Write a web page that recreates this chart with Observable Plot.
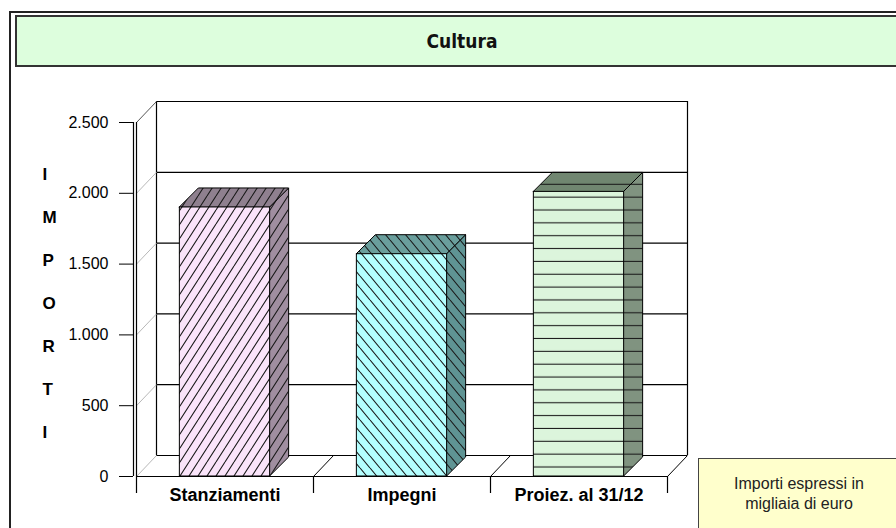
<!DOCTYPE html>
<html>
<head>
<meta charset="utf-8">
<script src="https://cdn.jsdelivr.net/npm/d3@7"></script>
<script src="https://cdn.jsdelivr.net/npm/@observablehq/plot@0.6"></script>
<style>
html,body{margin:0;padding:0;background:#fff;}
#wrap{position:relative;width:896px;height:528px;overflow:hidden;font-family:"Liberation Sans",Arial,sans-serif;}
#frame{position:absolute;left:9px;top:11px;width:1000px;height:1000px;border-left:2px solid #222;border-top:2px solid #222;}
#title{position:absolute;left:15px;top:15px;width:890px;height:48px;background:#ddfedd;border:2px solid #333;display:flex;align-items:center;justify-content:center;font-family:"Liberation Sans Narrow","DejaVu Sans Condensed",sans-serif;font-stretch:condensed;font-weight:bold;font-size:19px;color:#111;}
#chart{position:absolute;left:0;top:0;}
#note{position:absolute;left:698px;top:458px;width:202px;height:100px;background:#ffffcc;border:1px solid #444;text-align:center;font-size:16px;line-height:20px;padding-top:15px;box-sizing:border-box;color:#222;}
#defs{position:absolute;left:0;top:0;}
</style>
</head>
<body>
<div id="wrap">
  <svg id="defs" width="0" height="0"></svg>
  <div id="frame"></div>
  <div id="chart"></div>
  <div id="title"></div>
  <div id="note"></div>
</div>
<script>
// ---- data ----
const title = "Cultura";
const categories = ["Stanziamenti", "Impegni", "Proiez. al 31/12"];
const values = [1900, 1570, 2010];
const yTicks = [0, 500, 1000, 1500, 2000, 2500];
const yTickLabels = ["0", "500", "1.000", "1.500", "2.000", "2.500"];
const yTitle = "IMPORTI";
const noteLines = ["Importi espressi in", "migliaia di euro"];
const frontColors = ["#fae4fa", "#b4ffff", "#dcf5dc"];
const sideColors = ["#a08ea0", "#5f9494", "#809380"];
const topColors = ["#8f808f", "#6a9e9c", "#708670"];
const hatchKinds = ["up", "down", "horiz"];

document.getElementById("title").textContent = title;
document.getElementById("note").innerHTML = noteLines.join("<br>");

// ---- hatch patterns ----
const defs = d3.select("#defs").append("defs");
function addPattern(id, kind, bg) {
  let w, h, d, y = 0;
  if (kind === "up") { w = 9; h = 14; d = "M-9,14L0,0M0,14L9,0M9,14L18,0"; }
  else if (kind === "down") { w = 10; h = 12; d = "M-10,0L0,12M0,0L10,12M10,0L20,12"; }
  else { w = 10; h = 12.85; d = "M-1,6.4H11"; y = -2; }
  const p = defs.append("pattern").attr("id", id).attr("patternUnits", "userSpaceOnUse")
    .attr("x", 0).attr("y", y).attr("width", w).attr("height", h);
  p.append("rect").attr("width", w).attr("height", h).attr("fill", bg);
  p.append("path").attr("d", d).attr("stroke", "#1a1a1a").attr("stroke-width", 1.1).attr("fill", "none");
}
categories.forEach((c, i) => {
  addPattern("front" + i, hatchKinds[i], frontColors[i]);
  addPattern("side" + i, hatchKinds[i], sideColors[i]);
  addPattern("top" + i, hatchKinds[i], topColors[i]);
});

// ---- geometry ----
const W = 896, H = 528, mL = 136, mR = 229, mT = 122, mB = 52;
const n = categories.length;
const yMax = yTicks[yTicks.length - 1];
const pxX = (W - mL - mR) / n;
const pxY = (H - mT - mB) / yMax;
const wallDx = 20 / pxX, wallDy = 21 / pxY;
const barDx = 19 / pxX, barDy = 19 / pxY;
const tickLen = 17 / pxY;
const half = 0.255;
const bars = categories.map((c, i) => ({c, i, v: values[i], x1: i + 0.5 - half, x2: i + 0.5 + half}));
const bounds = d3.range(n + 1);

const marks = [
  // back wall
  Plot.ruleY(yTicks, {y: d => d + wallDy, x1: wallDx, x2: n + wallDx, stroke: "#000", strokeWidth: 1.2}),
  Plot.ruleX([0, n], {x: d => d + wallDx, y1: wallDy, y2: yMax + wallDy, stroke: "#000", strokeWidth: 1.2}),
  // side wall diagonals
  Plot.link(yTicks.filter(d => d !== yMax), {x1: 0, y1: d => d, x2: wallDx, y2: d => d + wallDy, stroke: "#b8b8b8"}),
  Plot.link([yMax], {x1: 0, y1: d => d, x2: wallDx, y2: d => d + wallDy, stroke: "#555"}),
  // floor diagonals
  Plot.link(bounds.slice(1), {x1: d => d, y1: 0, x2: d => d + wallDx, y2: wallDy, stroke: "#000"}),
  // front x axis
  Plot.ruleY([0], {x1: 0, x2: n, stroke: "#000", strokeWidth: 1.2}),
  Plot.ruleX([0], {y1: -tickLen, y2: yMax, stroke: "#000", strokeWidth: 1.2}),
  Plot.ruleX(bounds.slice(1), {y1: -tickLen, y2: 0, stroke: "#000", strokeWidth: 1.2}),
  Plot.ruleX([0], {y1: 0, y2: yMax, dx: -3, stroke: "#000", strokeWidth: 1.2}),
];

bars.forEach(b => {
  marks.push(
    Plot.areaY([{x: b.x2, y1: 0, y2: b.v}, {x: b.x2 + barDx, y1: barDy, y2: b.v + barDy}],
      {x: "x", y1: "y1", y2: "y2", fill: `url(#side${b.i})`, stroke: "#000", strokeWidth: 1}),
    Plot.areaX([{y: b.v, x1: b.x1, x2: b.x2}, {y: b.v + barDy, x1: b.x1 + barDx, x2: b.x2 + barDx}],
      {y: "y", x1: "x1", x2: "x2", fill: `url(#top${b.i})`, stroke: "#000", strokeWidth: 1}),
    Plot.rect([b], {x1: "x1", x2: "x2", y1: 0, y2: "v", fill: `url(#front${b.i})`, stroke: "#000", strokeWidth: 1})
  );
});

marks.push(
  Plot.axisY({ticks: yTicks, tickFormat: d => yTickLabels[yTicks.indexOf(d)], tickSize: 14, tickPadding: 11, dx: -3, fontSize: 16, stroke: "#000", fill: "#000"}),
  Plot.text(categories, {x: (d, i) => i + 0.5, y: 0, dy: 19, fontWeight: "bold", fontSize: 18, fill: "#000"}),
  Plot.text([yTitle.split("").join("\n")], {frameAnchor: "left", dx: 42 - mL, dy: -4, fontWeight: "bold", fontSize: 17, lineHeight: 43 / 17, fill: "#000"})
);

const chart = Plot.plot({
  width: W, height: H,
  marginLeft: mL, marginRight: mR, marginTop: mT, marginBottom: mB,
  x: {domain: [0, n], axis: null},
  y: {domain: [0, yMax]},
  style: {background: "transparent", color: "#000", fontFamily: "'Liberation Sans', Arial, sans-serif", fontSize: "16px", overflow: "visible"},
  marks
});
document.getElementById("chart").appendChild(chart);
</script>
</body>
</html>
